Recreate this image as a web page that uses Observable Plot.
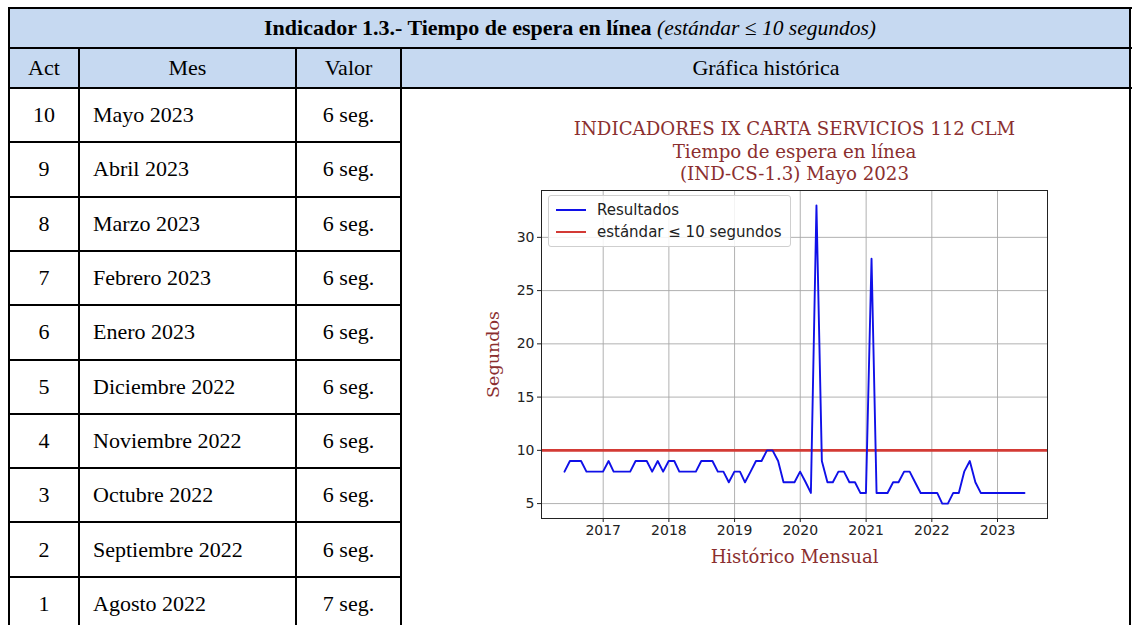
<!DOCTYPE html>
<html><head><meta charset="utf-8">
<script src="https://cdn.jsdelivr.net/npm/d3@7"></script>
<script src="https://cdn.jsdelivr.net/npm/@observablehq/plot@0.6"></script>
<style>
html,body{margin:0;padding:0;background:#fff}
body{width:1132px;height:625px;overflow:hidden;position:relative;font-family:"Liberation Serif","Times New Roman",serif;color:#000}
.bg{position:absolute;background:#c6d9f1}
.hl{position:absolute;background:#000;height:2px}
.vl{position:absolute;background:#000;width:2px}
.cell{position:absolute;display:flex;align-items:center;font-size:22px;white-space:nowrap}
#chart{position:absolute;left:470px;top:100px}
#legend{position:absolute;left:548px;top:195px;width:241px;height:50px;border:1px solid #cfcfcf;border-radius:3px;background:rgba(255,255,255,0.85);font-family:"DejaVu Sans",sans-serif;font-size:15px;color:#222;z-index:2}
.lg{position:absolute;left:0;height:22px;display:flex;align-items:center}
.sw{display:inline-block;width:30px;height:0;margin-left:7px;margin-right:11px}
</style></head><body>
<script>
// ---------- data ----------
const titleBold = "Indicador 1.3.- Tiempo de espera en línea";
const titleItalic = "(estándar ≤ 10 segundos)";
const headers = ["Act", "Mes", "Valor", "Gráfica histórica"];
const acts = [10, 9, 8, 7, 6, 5, 4, 3, 2, 1];
const meses = ["Mayo 2023", "Abril 2023", "Marzo 2023", "Febrero 2023", "Enero 2023",
  "Diciembre 2022", "Noviembre 2022", "Octubre 2022", "Septiembre 2022", "Agosto 2022"];
const valores = ["6 seg.", "6 seg.", "6 seg.", "6 seg.", "6 seg.", "6 seg.", "6 seg.", "6 seg.", "6 seg.", "7 seg."];

const chartTitle = ["INDICADORES IX CARTA SERVICIOS 112 CLM", "Tiempo de espera en línea", "(IND-CS-1.3) Mayo 2023"];
const xLabel = "Histórico Mensual";
const yLabel = "Segundos";
const seriesName = "Resultados";
const standardName = "estándar ≤ 10 segundos";
const standard = 10;
const firstMonth = [2016, 4]; // May 2016 (month index 0-based)
// monthly values, May 2016 .. May 2023
const resultados = [
  8, 9, 9, 9, 8, 8, 8, 8,                 // 2016 May-Dec
  9, 8, 8, 8, 8, 9, 9, 9, 8, 9, 8, 9,     // 2017
  9, 8, 8, 8, 8, 9, 9, 9, 8, 8, 7, 8,     // 2018
  8, 7, 8, 9, 9, 10, 10, 9, 7, 7, 7, 8,   // 2019
  7, 6, 33, 9, 7, 7, 8, 8, 7, 7, 6, 6,    // 2020
  28, 6, 6, 6, 7, 7, 8, 8, 7, 6, 6, 6,    // 2021
  6, 5, 5, 6, 6, 8, 9, 7, 6, 6, 6, 6,     // 2022
  6, 6, 6, 6, 6                           // 2023 Jan-May
];
const yearTickLabels = [2017, 2018, 2019, 2020, 2021, 2022, 2023];
const yTicks = [5, 10, 15, 20, 25, 30];

// ---------- table ----------
const body = d3.select("body");
const L = 9, R = 1131, T = 8, H1 = 48, H2 = 88, rowH = 54.3, BOT = 625;
const cols = [9, 79, 296, 401, 1131];

body.append("div").attr("class", "bg").style("left", L + "px").style("top", T + "px")
  .style("width", (R - L) + "px").style("height", (H2 - T) + "px");

// title
body.append("div").attr("class", "cell")
  .style("left", L + "px").style("width", (R - L) + "px").style("top", T + "px").style("height", (H1 - T) + "px")
  .style("justify-content", "center")
  .html(`<b>${titleBold}</b>&nbsp;<i style="font-size:21.5px">${titleItalic}</i>`);

// header
headers.forEach((h, i) => {
  body.append("div").attr("class", "cell")
    .style("left", cols[i] + "px").style("width", (cols[i + 1] - cols[i]) + "px")
    .style("top", H1 + "px").style("height", (H2 - H1) + "px")
    .style("justify-content", "center").text(h);
});

// rows
acts.forEach((a, i) => {
  const top = H2 + i * rowH;
  body.append("div").attr("class", "cell")
    .style("left", cols[0] + "px").style("width", (cols[1] - cols[0]) + "px")
    .style("top", top + "px").style("height", rowH + "px").style("justify-content", "center").text(a);
  body.append("div").attr("class", "cell")
    .style("left", (cols[1] + 14) + "px").style("top", top + "px").style("height", rowH + "px").text(meses[i]);
  body.append("div").attr("class", "cell")
    .style("left", cols[2] + "px").style("width", (cols[3] - cols[2]) + "px")
    .style("top", top + "px").style("height", rowH + "px").style("justify-content", "center").text(valores[i]);
});

// lines
function hline(y, x0, x1) {
  body.append("div").attr("class", "hl").style("left", (x0 - 1) + "px").style("width", (x1 - x0 + 2) + "px").style("top", (Math.round(y) - 1) + "px");
}
function vline(x, y0, y1) {
  body.append("div").attr("class", "vl").style("left", (x - 1) + "px").style("top", (y0 - 1) + "px").style("height", (y1 - y0 + 1) + "px");
}
hline(T, L, R); hline(H1, L, R); hline(H2, L, R);
for (let k = 1; k <= acts.length; k++) hline(H2 + k * rowH, cols[0], cols[3]);
vline(L, T, BOT); vline(R - 1, T, BOT);
vline(cols[1], H1, BOT); vline(cols[2], H1, BOT); vline(cols[3], H1, BOT);

// ---------- chart ----------
const data = resultados.map((v, i) => ({
  // value dated at the last day of its month
  date: new Date(Date.UTC(firstMonth[0], firstMonth[1] + i + 1, 0)),
  value: v
}));
const dx = d3.extent(data, d => d.date);
const span = dx[1] - dx[0];
const xDomain = [new Date(+dx[0] - 0.05 * span), new Date(+dx[1] + 0.05 * span)];
const vy = d3.extent(data, d => d.value);
const ySpan = vy[1] - vy[0];
const yDomain = [vy[0] - 0.05 * ySpan, vy[1] + 0.05 * ySpan];
const xTicks = yearTickLabels.map(y => new Date(Date.UTC(y, 0, 1)));

const dark = "#8b2f2f";
const chart = Plot.plot({
  width: 600, height: 480,
  marginLeft: 71, marginRight: 23, marginTop: 90, marginBottom: 62,
  style: {fontFamily: "DejaVu Sans, sans-serif", fontSize: "14px", color: "#222", background: "transparent", overflow: "visible"},
  x: {type: "utc", domain: xDomain},
  y: {domain: yDomain},
  marks: [
    Plot.gridX(xTicks, {stroke: "#a8a8a8", strokeOpacity: 1, strokeWidth: 0.9}),
    Plot.gridY(yTicks, {stroke: "#a8a8a8", strokeOpacity: 1, strokeWidth: 0.9}),
    Plot.ruleY([standard], {stroke: "#d33a35", strokeWidth: 2.6}),
    Plot.lineY(data, {x: "date", y: "value", stroke: "#1010e8", strokeWidth: 1.9}),
    Plot.frame({stroke: "#222", strokeWidth: 1}),
    Plot.axisX(xTicks, {tickSize: 4, tickPadding: 3, tickFormat: d3.utcFormat("%Y"), label: null, fontSize: 14, stroke: "#222"}),
    Plot.axisY(yTicks, {tickSize: 4, tickPadding: 3, label: null, fontSize: 14, stroke: "#222"}),
    Plot.text([chartTitle.join("\n")], {frameAnchor: "top", dy: -40, lineAnchor: "middle", lineHeight: 1.22,
      fontFamily: "DejaVu Serif, serif", fontSize: 18.2, fill: dark}),
    Plot.text([xLabel], {frameAnchor: "bottom", dy: 39, lineAnchor: "middle",
      fontFamily: "DejaVu Serif, serif", fontSize: 18, fill: dark}),
    Plot.text([yLabel], {frameAnchor: "left", dx: -48, rotate: -90, textAnchor: "middle", lineAnchor: "middle",
      fontFamily: "DejaVu Serif, serif", fontSize: 17.5, fill: dark})
  ]
});
chart.id = "chart";
document.body.appendChild(chart);

// legend
const legend = body.append("div").attr("id", "legend");
[[seriesName, "#1010e8", 2], [standardName, "#d33a35", 2.6]].forEach(([t, c, w], i) => {
  const row = legend.append("div").attr("class", "lg").style("top", (3 + i * 22) + "px");
  row.append("span").attr("class", "sw").style("border-top", `${w}px solid ${c}`);
  row.append("span").text(t);
});
</script>
</body></html>
